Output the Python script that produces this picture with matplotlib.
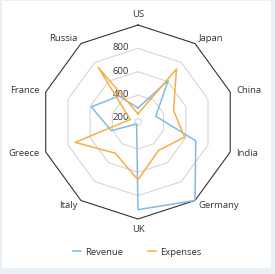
import numpy as np
import matplotlib
matplotlib.use('Agg')
import matplotlib.pyplot as plt
from matplotlib.patches import Rectangle

plt.rcParams['font.family'] = ['Open Sans', 'DejaVu Sans']

countries = ['US', 'Japan', 'China', 'India', 'Germany', 'UK', 'Italy', 'Greece', 'France', 'Russia']
revenue = [290, 610, 330, 690, 1000, 920, 190, 410, 590, 445]
expenses = [240, 730, 490, 590, 470, 665, 500, 735, 240, 750]
ring_values = [200, 400, 600, 800]
r_min, r_max = 170, 1000

blue = '#82b9e6'
orange = '#f9ae45'
txt = '#333333'

n = len(countries)
theta = np.arange(n) * 2 * np.pi / n
theta_c = np.append(theta, theta[0])

fig = plt.figure(figsize=(2.75, 2.74), dpi=100, facecolor='#e8eff5')
fig.add_artist(Rectangle((2/275, 6/274), 269/275, 267/274, transform=fig.transFigure,
                         facecolor='white', edgecolor='none', zorder=0))

ax = fig.add_axes([0.149, 0.2007, 0.7055, 0.708], projection='polar')
ax.set_facecolor('none')
ax.set_theta_zero_location('N')
ax.set_theta_direction(-1)
ax.set_ylim(r_min, r_max)
ax.grid(False)
ax.spines['polar'].set_visible(False)
ax.set_yticks([])
ax.set_xticks(theta)
ax.set_xticklabels([])
ax.tick_params(axis='x', direction='out', length=3.5, width=0.8, color=txt)

# polygon grid
for r in ring_values:
    ax.plot(theta_c, [r] * (n + 1), color='#d6d6d6', lw=0.8, zorder=1)
    ax.annotate(str(r), (0, r), xytext=(-6.5, 0.5), textcoords='offset points',
                ha='right', va='center', fontsize=6.8, color=txt)
ax.plot(theta_c, [r_max] * (n + 1), color=txt, lw=0.8, zorder=1, clip_on=False)

# data
ax.plot(theta_c, revenue + revenue[:1], color=blue, lw=1.1, label='Revenue', zorder=3, clip_on=False)
ax.plot(theta_c, expenses + expenses[:1], color=orange, lw=1.1, label='Expenses', zorder=3, clip_on=False)

# category labels
for t, name in zip(theta, countries):
    dx, dy = np.sin(t), np.cos(t)
    if abs(dx) < 0.1:
        ha = 'center'
    elif dx > 0:
        ha = 'left'
    else:
        ha = 'right'
    ax.annotate(name, (t, r_max), xytext=(4.5 * dx, 4.5 * dy + (3 if dy > 0.9 else 0) - (3 if dy < -0.9 else 0)),
                textcoords='offset points', ha=ha, va='center', fontsize=6.8, color=txt,
                annotation_clip=False)

fig.legend(loc='center', bbox_to_anchor=(0.5, 0.08), ncol=2, frameon=False, fontsize=6.8,
           handlelength=0.8, handletextpad=0.5, columnspacing=2.6, labelcolor=txt)

fig.savefig('out.png', dpi=100, facecolor=fig.get_facecolor())
